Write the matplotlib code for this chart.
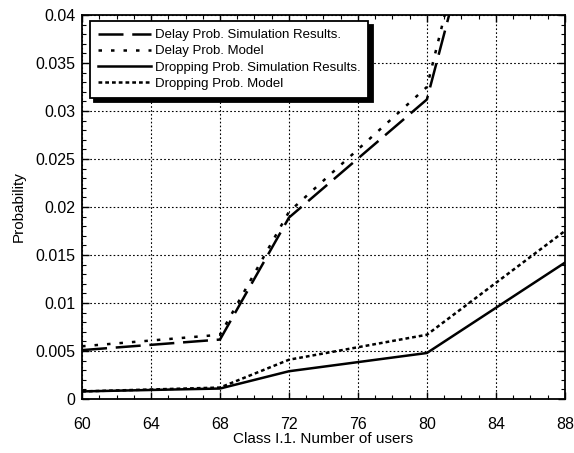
import matplotlib
matplotlib.use("Agg")
import matplotlib.pyplot as plt
from matplotlib.ticker import MultipleLocator

plt.rcParams["font.family"] = ["Liberation Sans", "DejaVu Sans"]

users = [60, 68, 72, 80, 84]
delay_sim = [0.0051, 0.0062, 0.0189, 0.0312, 0.0585]
delay_model = [0.0055, 0.0067, 0.0195, 0.0325, 0.0615]

users_drop = [60, 68, 72, 80, 88]
drop_sim = [0.0008, 0.0011, 0.0029, 0.0048, 0.0142]
drop_model = [0.0008, 0.0012, 0.0041, 0.0067, 0.0175]

fig, ax = plt.subplots(figsize=(5.74, 4.53), dpi=100)
fig.subplots_adjust(left=0.143, right=0.984, top=0.967, bottom=0.119)

ax.plot(users, delay_sim, color="k", lw=1.8, dashes=(10, 3.5),
        label="Delay Prob. Simulation Results.")
ax.plot(users, delay_model, color="k", lw=1.8, dashes=(1.4, 3.6),
        label="Delay Prob. Model")
ax.plot(users_drop, drop_sim, color="k", lw=1.8,
        label="Dropping Prob. Simulation Results.")
ax.plot(users_drop, drop_model, color="k", lw=1.8, dashes=(1.5, 1.2),
        label="Dropping Prob. Model")

ax.set_xlim(60, 88)
ax.set_ylim(0, 0.04)
ax.xaxis.set_major_locator(MultipleLocator(4))
ax.xaxis.set_minor_locator(MultipleLocator(1))
ax.yaxis.set_minor_locator(MultipleLocator(0.001))
ax.set_yticks([0, 0.005, 0.01, 0.015, 0.02, 0.025, 0.03, 0.035, 0.04])
ax.set_yticklabels(["0", "0.005", "0.01", "0.015", "0.02", "0.025", "0.03", "0.035", "0.04"])
ax.tick_params(which="both", direction="in", top=True, right=True, labelsize=11.5)
ax.tick_params(which="major", length=5, width=1)
ax.tick_params(which="minor", length=3, width=0.8)
ax.tick_params(axis="x", pad=13)
ax.tick_params(axis="y", pad=5)
ax.grid(True, which="major", color="k", ls=(0, (1.5, 2)), lw=0.8)
for s in ax.spines.values():
    s.set_linewidth(1.3)

ax.set_xlabel("Class I.1. Number of users", fontsize=11, labelpad=0)
ax.set_ylabel("Probability", fontsize=11, labelpad=7)

leg = ax.legend(loc="upper left", bbox_to_anchor=(0.017, 0.984), borderaxespad=0,
                fontsize=9.5, handlelength=4.0, handletextpad=0.3,
                labelspacing=0.3, borderpad=0.6, fancybox=False, framealpha=1,
                shadow={"color": "k", "alpha": 1, "ox": 3, "oy": -3})
leg.get_frame().set_edgecolor("k")
leg.get_frame().set_linewidth(1.3)

fig.savefig("out.png", dpi=100)
